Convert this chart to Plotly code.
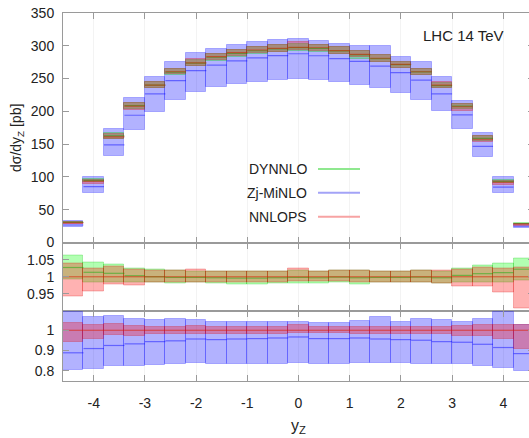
import plotly.graph_objects as go

# ---------------- data ----------------
bin_centers = [-4.4, -4.0, -3.6, -3.2, -2.8, -2.4, -2.0, -1.6, -1.2, -0.8, -0.4, 0.0,
               0.4, 0.8, 1.2, 1.6, 2.0, 2.4, 2.8, 3.2, 3.6, 4.0, 4.4]
bin_width = 0.4

# NNLOPS central value dsigma/dy_Z [pb]
nnlops = [30, 93.5, 161, 208, 240, 260.4, 274, 283.4, 289.5, 293.6, 296.2, 297.7,
          297, 292.5, 287, 281, 271.7, 260.4, 240, 207, 157.5, 92.2, 28]
# NNLOPS band relative to its central value
nnlops_lo_r = [0.942, 0.958, 0.977, 0.974, 0.984, 0.984, 0.984, 0.982, 0.983, 0.983, 0.983, 0.985,
               0.985, 0.985, 0.984, 0.982, 0.982, 0.982, 0.980, 0.972, 0.972, 0.955, 0.908]
nnlops_hi_r = [1.038, 1.025, 1.030, 1.020, 1.018, 1.017, 1.022, 1.015, 1.016, 1.016, 1.016, 1.025,
               1.015, 1.017, 1.017, 1.015, 1.015, 1.017, 1.017, 1.022, 1.027, 1.024, 1.027]
# DYNNLO relative to NNLOPS central
dynnlo_r = [1.027, 1.013, 1.010, 1.003, 1.000, 0.998, 0.998, 0.997, 0.996, 0.996, 0.997, 0.998,
            0.997, 0.999, 0.997, 0.998, 0.998, 0.999, 0.997, 1.004, 1.009, 1.012, 1.022]
dynnlo_lo_r = [0.992, 0.984, 0.984, 0.982, 0.982, 0.979, 0.982, 0.979, 0.977, 0.977, 0.979, 0.980,
               0.979, 0.982, 0.977, 0.982, 0.982, 0.982, 0.979, 0.984, 0.984, 0.984, 0.990]
dynnlo_hi_r = [1.061, 1.042, 1.037, 1.024, 1.020, 1.018, 1.015, 1.015, 1.015, 1.015, 1.015, 1.017,
               1.015, 1.017, 1.017, 1.015, 1.015, 1.017, 1.014, 1.024, 1.034, 1.040, 1.054]
# Zj-MiNLO relative to NNLOPS central
minlo_r = [0.889, 0.910, 0.925, 0.933, 0.944, 0.948, 0.957, 0.954, 0.957, 0.959, 0.962, 0.967,
           0.959, 0.959, 0.962, 0.957, 0.954, 0.951, 0.944, 0.941, 0.931, 0.915, 0.885]
minlo_lo_r = [0.803, 0.811, 0.823, 0.825, 0.831, 0.833, 0.839, 0.836, 0.836, 0.836, 0.836, 0.839,
              0.836, 0.836, 0.839, 0.839, 0.839, 0.833, 0.836, 0.833, 0.825, 0.816, 0.800]
minlo_hi_r = [1.090, 1.066, 1.072, 1.056, 1.049, 1.057, 1.052, 1.041, 1.041, 1.041, 1.041, 1.041,
              1.036, 1.036, 1.044, 1.066, 1.041, 1.056, 1.049, 1.041, 1.057, 1.090, 1.025]

x_ticks = [-4, -3, -2, -1, 0, 1, 2, 3, 4]
x_ticktext = ['-4', '-3', '-2', '-1', '0', '1', '2', '3', '4']
y1_ticks = [0, 50, 100, 150, 200, 250, 300, 350]
y2_ticks = [0.95, 1.0, 1.05]
y2_ticktext = ['0.95', '1', '1.05']
y3_ticks = [0.8, 0.9, 1.0]
y3_ticktext = ['0.8', '0.9', '1']

# ---------------- styles ----------------
BLUE_FILL = 'rgba(0,0,255,0.30)'
BLUE_EDGE = 'rgba(0,0,255,0.25)'
BLUE_LINE = 'rgba(0,0,255,0.45)'
RED_FILL = 'rgba(255,0,0,0.30)'
RED_EDGE = 'rgba(220,0,0,0.25)'
RED_LINE = 'rgba(220,30,0,0.55)'
GREEN_FILL = 'rgba(0,255,0,0.30)'
GREEN_EDGE = 'rgba(0,190,0,0.25)'
GREEN_LINE = 'rgba(0,170,0,0.45)'
FRAME = '#9a9a9a'
FONT = 'Liberation Sans, Arial, sans-serif'


def mul(a, b):
    return [u * v for u, v in zip(a, b)]


def band(lo, hi, fill, edge, xa, ya):
    return go.Bar(x=bin_centers, base=lo, y=[h - l for l, h in zip(lo, hi)],
                  width=bin_width, marker=dict(color=fill, line=dict(color=edge, width=1)),
                  xaxis=xa, yaxis=ya, showlegend=False, hoverinfo='skip')


def steps(vals, color, xa, ya, w=1.2):
    xs, ys = [], []
    for c, v in zip(bin_centers, vals):
        xs += [c - bin_width / 2, c + bin_width / 2, None]
        ys += [v, v, None]
    return go.Scatter(x=xs, y=ys, mode='lines', line=dict(color=color, width=w),
                      xaxis=xa, yaxis=ya, showlegend=False, hoverinfo='skip')


ones = [1.0] * len(bin_centers)

fig = go.Figure()
# top panel
fig.add_trace(band(mul(nnlops, minlo_lo_r), mul(nnlops, minlo_hi_r), BLUE_FILL, BLUE_EDGE, 'x', 'y'))
fig.add_trace(steps(mul(nnlops, minlo_r), BLUE_LINE, 'x', 'y'))
fig.add_trace(band(mul(nnlops, dynnlo_lo_r), mul(nnlops, dynnlo_hi_r), GREEN_FILL, GREEN_EDGE, 'x', 'y'))
fig.add_trace(steps(mul(nnlops, dynnlo_r), GREEN_LINE, 'x', 'y'))
fig.add_trace(band(mul(nnlops, nnlops_lo_r), mul(nnlops, nnlops_hi_r), RED_FILL, RED_EDGE, 'x', 'y'))
fig.add_trace(steps(nnlops, RED_LINE, 'x', 'y'))
# middle ratio panel
fig.add_trace(band(dynnlo_lo_r, dynnlo_hi_r, GREEN_FILL, GREEN_EDGE, 'x2', 'y2'))
fig.add_trace(steps(dynnlo_r, GREEN_LINE, 'x2', 'y2'))
fig.add_trace(band(nnlops_lo_r, nnlops_hi_r, RED_FILL, RED_EDGE, 'x2', 'y2'))
fig.add_trace(steps(ones, RED_LINE, 'x2', 'y2'))
# bottom ratio panel
fig.add_trace(band(minlo_lo_r, minlo_hi_r, BLUE_FILL, BLUE_EDGE, 'x3', 'y3'))
fig.add_trace(steps(minlo_r, BLUE_LINE, 'x3', 'y3'))
fig.add_trace(band(nnlops_lo_r, nnlops_hi_r, RED_FILL, RED_EDGE, 'x3', 'y3'))
fig.add_trace(steps(ones, RED_LINE, 'x3', 'y3'))

W, H = 540, 438
ML, MR, MT, MB = 63, 6, 13, 57
PH = H - MT - MB  # plot height in px
PW = W - ML - MR


def py(p):  # pixel y -> paper y
    return (H - MB - p) / PH


def px(p):  # pixel x -> paper x
    return (p - ML) / PW


xcommon = dict(range=[-4.6, 4.6], tickvals=x_ticks, ticktext=x_ticktext, ticks='inside', ticklen=6,
               tickcolor=FRAME, showline=True, linecolor=FRAME, linewidth=1, mirror='ticks',
               showgrid=True, gridcolor='#f3f3f3', zeroline=False,
               tickfont=dict(size=14, color='#222', family=FONT))
ycommon = dict(ticks='inside', ticklen=6, tickcolor=FRAME, showline=True, linecolor=FRAME, linewidth=1,
               mirror='ticks', showgrid=False, zeroline=False, ticklabelstandoff=5,
               tickfont=dict(size=14, color='#222', family=FONT))

d_bot = py(311)
d_mid = py(242.5)

fig.update_layout(
    width=W, height=H,
    margin=dict(l=ML, r=MR, t=MT, b=MB),
    paper_bgcolor='white', plot_bgcolor='white',
    barmode='overlay', bargap=0,
    showlegend=False,
    font=dict(family=FONT, color='#222'),
    xaxis=dict(anchor='y', domain=[0, 1], showticklabels=False, **xcommon),
    xaxis2=dict(anchor='y2', domain=[0, 1], matches='x', showticklabels=False, **xcommon),
    xaxis3=dict(anchor='y3', domain=[0, 1], matches='x', showticklabels=True, ticklabelstandoff=9, **xcommon),
    yaxis=dict(domain=[d_mid, 1], range=[0, 350], tickvals=y1_ticks, anchor='x', **ycommon),
    yaxis2=dict(domain=[d_bot, d_mid], range=[0.9, 1.1], tickvals=y2_ticks, ticktext=y2_ticktext,
                anchor='x2', **ycommon),
    yaxis3=dict(domain=[0, d_bot], range=[0.75, 1.095], tickvals=y3_ticks, ticktext=y3_ticktext,
                anchor='x3', **ycommon),
)

ann = [
    dict(text='dσ/dy<sub>Z</sub> [pb]', x=px(17), y=py(138), textangle=-90, font=dict(size=14)),
    dict(text='y<sub>Z</sub>', x=px(298.5), y=py(426), font=dict(size=16)),
    dict(text='LHC 14 TeV', x=px(463.5), y=py(35), font=dict(size=15)),
]
leg_rows = [('DYNNLO', 169, '#8fe88f'), ('Zj-MiNLO', 192.7, '#a3a3f7'), ('NNLOPS', 216.7, '#f7a3a3')]
shapes = []
for name, ypix, col in leg_rows:
    ann.append(dict(text=name, x=px(309), y=py(ypix), xanchor='right', font=dict(size=14)))
    shapes.append(dict(type='line', xref='paper', yref='paper', x0=px(318), x1=px(360),
                       y0=py(ypix), y1=py(ypix), line=dict(color=col, width=2)))
for a in ann:
    a.setdefault('xanchor', 'center')
    a.update(xref='paper', yref='paper', yanchor='middle', showarrow=False)
    a['font'].setdefault('family', FONT)
    a['font'].setdefault('color', '#222')
fig.update_layout(annotations=ann, shapes=shapes)

post = ("document.body.style.margin='0';document.body.style.overflow='hidden';"
        "var d=document.getElementById('{plot_id}');"
        "d.parentElement.style.width='529px';d.parentElement.style.overflow='hidden';")
fig.write_html("out.html", post_script=post, config={'displayModeBar': False})
